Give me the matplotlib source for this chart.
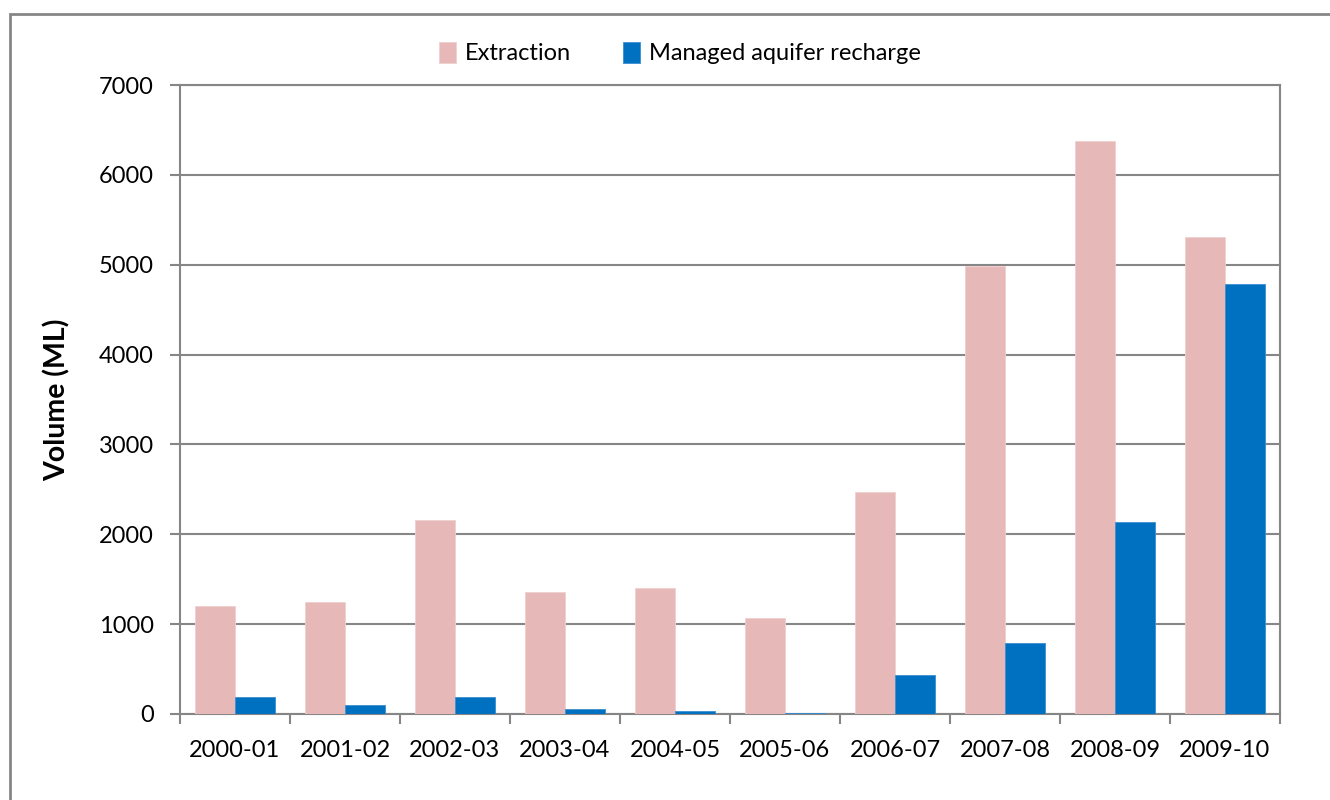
import matplotlib
matplotlib.use("Agg")
import matplotlib.pyplot as plt
import numpy as np
from matplotlib.patches import Rectangle

categories = ["2000-01", "2001-02", "2002-03", "2003-04", "2004-05",
              "2005-06", "2006-07", "2007-08", "2008-09", "2009-10"]
extraction = [1205, 1250, 2160, 1360, 1400, 1070, 2470, 4990, 6380, 5310]
recharge = [190, 100, 190, 55, 30, 10, 430, 790, 2140, 4780]
yticks = [0, 1000, 2000, 3000, 4000, 5000, 6000, 7000]

plt.rcParams['font.family'] = ['Lato', 'DejaVu Sans']
GRAY = "#868686"
PINK = "#E6B9B8"
BLUE = "#0070C0"

fig = plt.figure(figsize=(13.3, 8), dpi=100)
ax = fig.add_axes([180/1330, 1-714/800, 1100/1330, (714-85)/800])

x = np.arange(len(categories))
w = 0.364
ax.bar(x - w/2, extraction, w, color=PINK, edgecolor="#F0D0D0", linewidth=0.6,
       label="Extraction", zorder=3)
ax.bar(x + w/2, recharge, w, color=BLUE, edgecolor="#3A8FD0", linewidth=0.6,
       label="Managed aquifer recharge", zorder=3)

ax.set_xlim(-0.5, len(categories) - 0.5)
ax.set_ylim(0, 7000)
ax.set_yticks(yticks)
ax.set_yticklabels([str(v) for v in yticks])
ax.set_xticks(x)
ax.set_xticklabels(categories)
ax.set_xticks(np.arange(-0.5, len(categories)), minor=True)
ax.tick_params(axis='x', which='major', length=0, pad=19, labelsize=17)
ax.tick_params(axis='x', which='minor', length=7, width=1.5, color=GRAY)
ax.tick_params(axis='y', which='major', length=7, width=1.5, color=GRAY, pad=12,
               labelsize=17)
ax.yaxis.grid(True, color=GRAY, linewidth=1.5, zorder=0)
ax.set_axisbelow(True)
for s in ax.spines.values():
    s.set_color(GRAY)
    s.set_linewidth(1.5)

ax.set_ylabel("Volume (ML)", fontsize=20.5, fontweight='bold', labelpad=20)

leg = fig.legend(loc='center', bbox_to_anchor=(0.5 + 15/1330, 1-53/800), ncol=2,
                 frameon=False, fontsize=17, handlelength=0.7, handleheight=1.0,
                 handletextpad=0.4, columnspacing=2.2)

fig.patches.append(Rectangle((10/1330, -0.05), 1.1, 1.05 - 14/800,
                             transform=fig.transFigure, fill=False,
                             edgecolor=GRAY, linewidth=2, figure=fig))

fig.savefig("out.png", dpi=100)
